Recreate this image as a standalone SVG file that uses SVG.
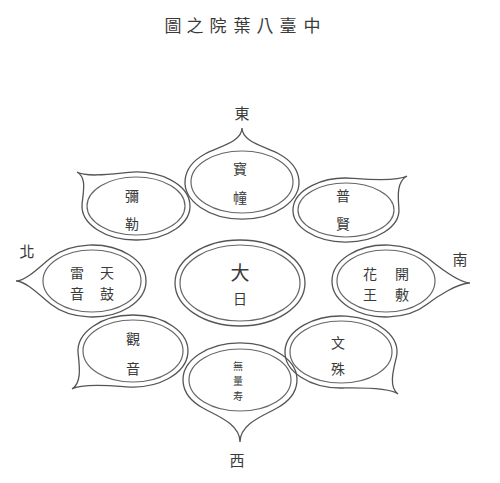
<svg xmlns="http://www.w3.org/2000/svg" width="500" height="483" viewBox="0 0 500 483">
<style>
.o{fill:none;stroke:#555;stroke-width:1.3}
.i{fill:none;stroke:#666;stroke-width:1.2}
text{font-family:"Noto Sans CJK TC","Noto Sans CJK JP",sans-serif;fill:#3a3a3a;text-anchor:middle;dominant-baseline:central}
.t{font-size:14px}
.s{font-size:10px}
.d{font-size:15px}
</style>
<rect width="500" height="483" fill="#fff"/>
<text id="title" x="312 288 265 242 218 195 173" y="24" style="font-size:17px">中臺八葉院之圖</text>
<g id="dirs" class="d">
<text x="242" y="112">東</text>
<text x="237" y="459">西</text>
<text x="27" y="250">北</text>
<text x="460" y="258">南</text>
</g>
<g id="center">
<ellipse class="o" cx="240" cy="283" rx="65" ry="43"/>
<ellipse class="i" cx="240" cy="283" rx="60" ry="38"/>
<text x="240" y="271" style="font-size:19px">大</text>
<text x="240" y="298" class="t">日</text>
</g>
<g id="petal-east">
<path class="o" d="M278.6,153.7 A57,37 0 1 1 205.4,153.7 C218.6,146.5 242,142 242,128 C242,142 265.4,146.5 278.6,153.7 Z"/>
<ellipse class="i" cx="242" cy="182" rx="51" ry="31"/>
<text x="240" y="168" class="t">寳</text>
<text x="240" y="197" class="t">幢</text>
</g>
<g id="petal-ne">
<path class="o" d="M128.95,172.3 A54,34 0 1 1 82.05,204.5 C82.9,192.5 87.4,178 77,172 C87.4,178 117,173.3 128.95,172.3 Z"/>
<ellipse class="i" cx="136" cy="206" rx="49" ry="29"/>
<text x="132" y="195" class="t">彌</text>
<text x="132" y="223" class="t">勒</text>
</g>
<g id="petal-se">
<path class="o" d="M398.9,208.5 A53,32 0 1 1 352.7,178.3 C364.7,179.2 396.5,181.8 407,176 C396.5,181.8 398,196.5 398.9,208.5 Z"/>
<ellipse class="i" cx="346" cy="210" rx="48" ry="27"/>
<text x="343" y="195" class="t">普</text>
<text x="343" y="223" class="t">賢</text>
</g>
<g id="petal-north">
<path class="o" d="M50.6,257.9 A54,36 0 1 1 50.6,304.1 C41.2,296.6 26,281 16,281 C26,281 41.2,265.4 50.6,257.9 Z"/>
<ellipse class="i" cx="92" cy="281" rx="49" ry="31"/>
<text x="107" y="272" class="t">天</text>
<text x="107" y="293" class="t">鼓</text>
<text x="77" y="272" class="t">雷</text>
<text x="77" y="293" class="t">音</text>
</g>
<g id="petal-south">
<path class="o" d="M427.4,304.1 A54,36 0 1 1 427.4,257.9 C436.8,265.4 458,283 470,283 C458,283 436.8,296.6 427.4,304.1 Z"/>
<ellipse class="i" cx="386" cy="281" rx="49" ry="31"/>
<text x="402" y="273" class="t">開</text>
<text x="402" y="294" class="t">敷</text>
<text x="370" y="273" class="t">花</text>
<text x="370" y="294" class="t">王</text>
</g>
<g id="petal-nw">
<path class="o" d="M78.1,353.3 A55,36 0 1 1 126.9,386.8 C114.9,385.9 82.2,382.7 72,389 C82.2,382.7 79.3,365.2 78.1,353.3 Z"/>
<ellipse class="i" cx="133" cy="351" rx="50" ry="31"/>
<text x="133" y="338" class="t">觀</text>
<text x="133" y="368" class="t">音</text>
</g>
<g id="petal-sw">
<path class="o" d="M342.1,388 A56,36 0 1 1 396.3,357.6 C393.5,369.3 388.3,386.9 398,394 C388.3,386.9 354.1,387.9 342.1,388 Z"/>
<ellipse class="i" cx="341" cy="352" rx="51" ry="31"/>
<text x="338" y="342" class="t">文</text>
<text x="338" y="368" class="t">殊</text>
</g>
<g id="petal-west">
<path class="o" d="M203.4,408.3 A57,37 0 1 1 276.6,408.3 C263.4,415.5 240,424 240,442 C240,424 216.6,415.5 203.4,408.3 Z"/>
<ellipse class="i" cx="240" cy="380" rx="51" ry="31"/>
<text x="238" y="365" class="s">無</text>
<text x="238" y="380" class="s">量</text>
<text x="238" y="395" class="s">寿</text>
</g>
</svg>
